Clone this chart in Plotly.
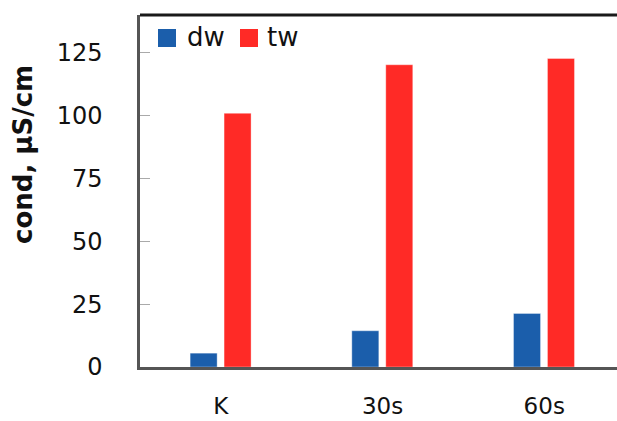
import plotly.graph_objects as go

categories = ["K", "30s", "60s"]
dw_values = [5.5, 14.4, 21.3]
tw_values = [100.9, 120.2, 122.7]
series_names = ["dw", "tw"]
series_colors = ["#1B5EAB", "#FF2A26"]
y_tickvals = [0, 25, 50, 75, 100, 125]
y_title = "cond, µS/cm"

W, H = 617, 421
ML, MR, MT, MB = 140, 0, 15, 54
PW, PH = W - ML - MR, H - MT - MB

FONT = "DejaVu Sans"

fig = go.Figure()
bar_w = 0.167
offsets = [-0.19, 0.02]
for name, vals, col, off in zip(series_names, [dw_values, tw_values], series_colors, offsets):
    fig.add_trace(go.Bar(
        x=categories, y=vals, name=name, width=bar_w, offset=off,
        marker=dict(color=col, line=dict(color="rgba(255,255,255,0.35)", width=1)),
        showlegend=False,
    ))

def px_x(px):
    return (px - ML) / PW

def px_y(py):
    return (H - MB - py) / PH

# custom legend (larger symbols like the reference)
legend_items = [(158, 185), (240, 265)]
for (sx, tx), name, col in zip(legend_items, series_names, series_colors):
    fig.add_shape(type="rect", xref="paper", yref="paper",
                  x0=px_x(sx), x1=px_x(sx + 18), y0=px_y(47), y1=px_y(29),
                  fillcolor=col, line=dict(width=0))
    fig.add_annotation(text=name, xref="paper", yref="paper",
                       x=px_x(tx), y=px_y(37), xanchor="left", yanchor="middle",
                       showarrow=False, font=dict(family=FONT, size=26, color="#111"))

# top frame line
fig.add_shape(type="line", xref="paper", yref="paper", x0=0, x1=1, y0=1, y1=1,
              line=dict(color="#1a1a1a", width=3))

fig.add_annotation(text="<b>" + y_title + "</b>", xref="paper", yref="paper",
                   x=px_x(23), y=px_y(155), textangle=-90, showarrow=False,
                   xanchor="center", yanchor="middle",
                   font=dict(family=FONT, size=26, color="#111"))

fig.update_layout(
    width=W, height=H,
    margin=dict(l=ML, r=MR, t=MT, b=MB, pad=0),
    paper_bgcolor="white", plot_bgcolor="white",
    barmode="overlay",
    font=dict(family=FONT, size=24, color="#111"),
    xaxis=dict(type="category", range=[-0.5, 2.45], showgrid=False, automargin=False,
               showline=True, linecolor="#555", linewidth=2.5, mirror=False,
               ticks="", ticklabelstandoff=17,
               tickfont=dict(family=FONT, size=23, color="#111"), fixedrange=True),
    yaxis=dict(range=[0, 140], tickvals=y_tickvals, showgrid=False, zeroline=False,
               automargin=False, mirror=False,
               showline=True, linecolor="#555", linewidth=2.5,
               ticks="inside", ticklen=10, tickcolor="#aaa", tickwidth=1,
               ticklabelstandoff=30,
               tickfont=dict(family=FONT, size=24, color="#111"), fixedrange=True),
)

fig.write_html("out.html")
